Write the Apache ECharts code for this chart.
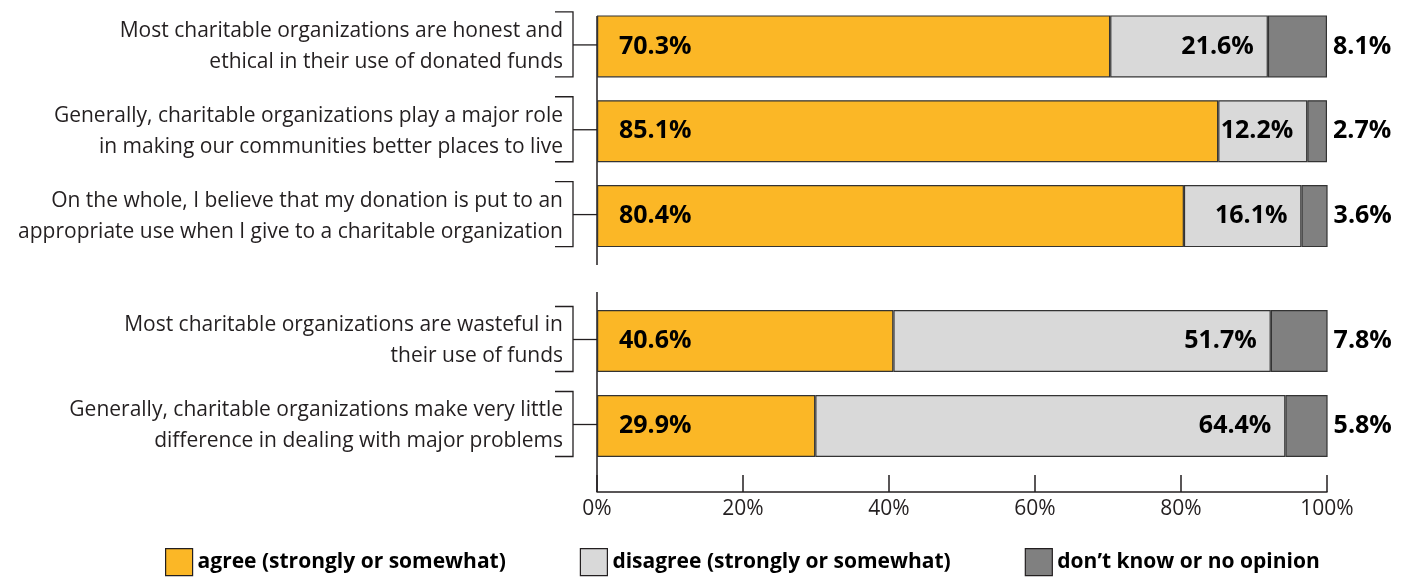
<!DOCTYPE html>
<html>
<head>
<meta charset="utf-8">
<script src="https://cdn.jsdelivr.net/npm/echarts@6/dist/echarts.min.js"></script>
<style>
  html, body { margin: 0; padding: 0; background: #fff; }
  #chart { width: 1406px; height: 581px; }
</style>
</head>
<body>
<div id="chart"></div>
<script>
// statements, split in two groups (positive / negative)
const groupA = [
    'Most charitable organizations are honest and\nethical in their use of donated funds',
    'Generally, charitable organizations play a major role\nin making our communities better places to live',
    'On the whole, I believe that my donation is put to an\nappropriate use when I give to a charitable organization'
];
const groupB = [
    'Most charitable organizations are wasteful in\ntheir use of funds',
    'Generally, charitable organizations make very little\ndifference in dealing with major problems'
];

const agreeA = [70.3, 85.1, 80.4];
const disagreeA = [21.6, 12.2, 16.1];
const unsureA = [8.1, 2.7, 3.6];

const agreeB = [40.6, 29.9];
const disagreeB = [51.7, 64.4];
const unsureB = [7.8, 5.8];

const seriesNames = ['agree (strongly or somewhat)', 'disagree (strongly or somewhat)', 'don\u2019t know or no opinion'];
const xTicks = [0, 20, 40, 60, 80, 100];

const FONT = '"Open Sans", sans-serif';
const INK = '#231f20';
const colors = ['#fbb726', '#d9d9d9', '#808080'];

const chart = echarts.init(document.getElementById('chart'));

const pctLabel = (position, distance) => ({
    show: true,
    position,
    distance,
    fontFamily: FONT,
    fontSize: 25,
    fontWeight: 'bold',
    color: '#000',
    formatter: p => p.value.toFixed(1) + '%'
});

function barSeries(idx, agree, disagree, unsure) {
    const base = {
        type: 'bar',
        stack: 'g' + idx,
        xAxisIndex: idx,
        yAxisIndex: idx,
        barWidth: 62,
        itemStyle: { borderColor: '#333', borderWidth: 1.2 }
    };
    return [
        { ...base, name: seriesNames[0], data: agree, itemStyle: { ...base.itemStyle, color: colors[0] }, label: pctLabel('insideLeft', 22) },
        { ...base, name: seriesNames[1], data: disagree, itemStyle: { ...base.itemStyle, color: colors[1] }, label: pctLabel('insideRight', 14) },
        { ...base, name: seriesNames[2], data: unsure, itemStyle: { ...base.itemStyle, color: colors[2] }, label: pctLabel('right', 6) }
    ];
}

// brackets beside the statement labels, placed on the category centres
function bracketSeries(idx, cats) {
    return {
        type: 'custom',
        xAxisIndex: idx,
        yAxisIndex: idx,
        silent: true,
        clip: false,
        data: cats.map((c, i) => [0, i]),
        renderItem: (params, api) => {
            const p = api.coord([0, api.value(1)]);
            const x0 = p[0], y = p[1];
            const xb = x0 - 24, xl = x0 - 42;
            return {
                type: 'group',
                children: [
                    { type: 'polyline', shape: { points: [[xl, y - 34.5], [xb, y - 34.5], [xb, y + 30.5], [xl, y + 30.5]] }, style: { stroke: INK, lineWidth: 1.3, fill: null } },
                    { type: 'line', shape: { x1: xb, y1: y - 1.5, x2: x0, y2: y - 1.5 }, style: { stroke: INK, lineWidth: 1.3 } }
                ]
            };
        }
    };
}

const catAxis = (idx, cats) => ({
    type: 'category',
    gridIndex: idx,
    inverse: true,
    data: cats,
    axisLine: { show: false },
    axisTick: { show: false },
    axisLabel: {
        margin: 34,
        fontFamily: FONT,
        fontSize: 21,
        lineHeight: 31,
        color: INK,
        padding: [0, 0, 20, 0]
    }
});

const option = {
    animation: false,
    textStyle: { fontFamily: FONT },
    grid: [
        { left: 597, right: 79, top: 4, height: 254.5 },
        { left: 597, right: 79, top: 298.5, height: 170 }
    ],
    xAxis: [
        { type: 'value', gridIndex: 0, min: 0, max: 100, interval: 20, show: false },
        {
            type: 'value', gridIndex: 1, min: 0, max: 100, interval: 20,
            offset: 23.5,
            splitLine: { show: false },
            axisLine: { show: true, lineStyle: { color: INK, width: 1.5 } },
            axisTick: { show: true, inside: true, length: 17, lineStyle: { color: INK, width: 1.5 } },
            axisLabel: {
                margin: 7,
                fontFamily: FONT,
                fontSize: 21,
                color: INK,
                formatter: v => xTicks.includes(v) ? v + '%' : ''
            }
        }
    ],
    yAxis: [catAxis(0, groupA), catAxis(1, groupB)],
    legend: {
        top: 543,
        left: 160,
        itemWidth: 27,
        itemHeight: 27,
        itemGap: 74,
        icon: 'rect',
        data: seriesNames,
        itemStyle: { borderColor: INK, borderWidth: 1.2 },
        textStyle: { fontFamily: FONT, fontSize: 21, fontWeight: 'bold', color: '#000' }
    },
    // split vertical axis line
    graphic: [
        { type: 'line', shape: { x1: 597, y1: 16, x2: 597, y2: 265 }, style: { stroke: INK, lineWidth: 1.5 } },
        { type: 'line', shape: { x1: 597, y1: 292, x2: 597, y2: 492 }, style: { stroke: INK, lineWidth: 1.5 } }
    ],
    series: [
        ...barSeries(0, agreeA, disagreeA, unsureA),
        ...barSeries(1, agreeB, disagreeB, unsureB),
        bracketSeries(0, groupA),
        bracketSeries(1, groupB)
    ]
};

chart.setOption(option);
</script>
</body>
</html>
